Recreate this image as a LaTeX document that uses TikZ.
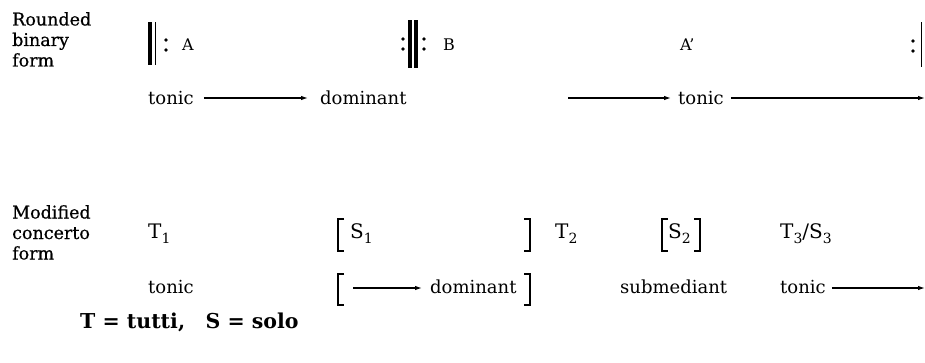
\documentclass[tikz,border=0pt]{standalone}
\usepackage{fontspec}
\setmainfont{DejaVu Serif}
\newfontfamily\heavyserif{DejaVu Serif}[FakeBold=0.6]
\usetikzlibrary{arrows.meta}
\newcommand\lowidx[1]{\raisebox{-0.28em}{\fontsize{14}{14}\selectfont #1}}
\begin{document}
\begin{tikzpicture}[x=1pt,y=-1pt,
  txt/.style={inner sep=0pt, anchor=base west, font=\fontsize{18}{20}\selectfont},
  lbl/.style={inner sep=0pt, anchor=north west, align=left, font=\heavyserif\fontsize{17.5}{20.5}\selectfont},
  sec/.style={inner sep=0pt, anchor=base west, font=\fontsize{16}{18}\selectfont},
  big/.style={inner sep=0pt, anchor=base west, font=\fontsize{20}{22}\selectfont},
  arr/.style={line width=1.2pt, -{Latex[length=7pt,width=4.5pt]}},
  thickbar/.style={line width=4pt},
  thinbar/.style={line width=1.3pt},
  dot/.style={circle, fill, inner sep=0pt, minimum size=3.6pt},
  brk/.style={line width=1.1pt},
]
\useasboundingbox (0,0) rectangle (925,362);
% ---------- Rounded binary form ----------
\node[lbl] (lab1) at (12,12) {Rounded\\binary\\form};
% start repeat
\draw[thickbar] (150,22) -- (150,65);
\draw[thinbar] (155.5,22) -- (155.5,65);
\node[dot] (d1a) at (166,40) {};
\node[dot] (d1b) at (166,50) {};
\node[sec] (A) at (182,50) {A};
% middle repeat
\node[dot] (d2a) at (403,39) {};
\node[dot] (d2b) at (403,49) {};
\draw[thickbar] (410,20) -- (410,68);
\draw[thickbar] (416,20) -- (416,68);
\node[dot] (d2c) at (424,39) {};
\node[dot] (d2d) at (424,49) {};
\node[sec] (B) at (443,50) {B};
\node[sec] (Ap) at (680,50) {A'};
% end repeat
\node[dot] (d3a) at (913,41) {};
\node[dot] (d3b) at (913,51) {};
\draw[thinbar] (921.5,22) -- (921.5,67);
% key row
\node[txt] (t1) at (148,104) {tonic};
\node[txt] (dom1) at (320,104) {dominant};
\node[txt] (t2) at (678,104) {tonic};
\coordinate (s1) at (568,98);
\coordinate (e1) at (925,98);
\draw[arr] ([xshift=10pt]t1.east |- s1) -- ([xshift=-12pt]dom1.west |- s1);
\draw[arr] (s1) -- ([xshift=-7pt]t2.west |- s1);
\draw[arr] ([xshift=7pt]t2.east |- e1) -- (e1);
% ---------- Modified concerto form ----------
\node[lbl] (lab2) at (12,205) {Modified\\concerto\\form};
\node[big] (T1) at (148,238) {T\lowidx{1}};
\node[big] (S1) at (350,238) {S\lowidx{1}};
\draw[brk] (344,219) -- (338,219) -- (338,251) -- (344,251);
\draw[brk] (524,219) -- (530,219) -- (530,251) -- (524,251);
\node[big] (T2) at (555,238) {T\lowidx{2}};
\node[big] (S2) at (668,238) {S\lowidx{2}};
\draw[brk] (668,219) -- (662,219) -- (662,251) -- (668,251);
\draw[brk] (694,219) -- (700,219) -- (700,251) -- (694,251);
\node[big] (T3) at (780,238) {T\lowidx{3}/S\lowidx{3}};
\node[txt] (t3) at (148,293) {tonic};
\draw[brk] (344,274) -- (338,274) -- (338,305) -- (344,305);
\coordinate (s2) at (353,288);
\node[txt] (dom2) at (430,293) {dominant};
\draw[brk] (524,274) -- (530,274) -- (530,305) -- (524,305);
\draw[arr] (s2) -- ([xshift=-8pt]dom2.west |- s2);
\node[txt] (sub) at (620,293) {submediant};
\node[txt] (t4) at (780,293) {tonic};
\coordinate (e2) at (925,288);
\draw[arr] ([xshift=6pt]t4.east |- e2) -- (e2);
% legend
\node[inner sep=0pt, anchor=base west, font=\fontsize{20.5}{22}\selectfont\bfseries] (leg) at (80,328) {T = tutti,\quad S = solo};
\end{tikzpicture}
\end{document}
